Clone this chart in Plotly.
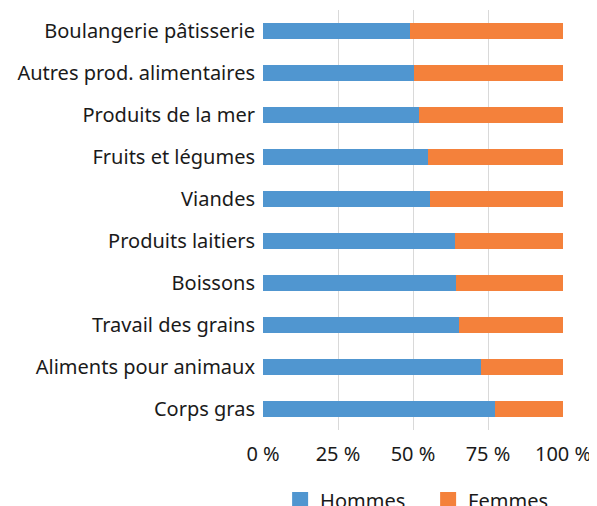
import plotly.graph_objects as go

categories = ["Boulangerie pâtisserie", "Autres prod. alimentaires", "Produits de la mer",
              "Fruits et légumes", "Viandes", "Produits laitiers", "Boissons",
              "Travail des grains", "Aliments pour animaux", "Corps gras"]
hommes = [49.1, 50.2, 51.9, 54.9, 55.7, 64.0, 64.3, 65.2, 72.7, 77.3]
femmes = [round(100 - h, 1) for h in hommes]
tick_vals = [0, 25, 50, 75, 100]
tick_text = ["0 %", "25 %", "50 %", "75 %", "100 %"]

BLUE = "#5096D0"
ORANGE = "#F4813B"
FONT = "Noto Sans"
fig = go.Figure()
fig.add_trace(go.Bar(y=categories, x=hommes, name="Hommes", orientation="h",
                     marker=dict(color=BLUE, line=dict(width=0)), showlegend=False))
fig.add_trace(go.Bar(y=categories, x=femmes, name="Femmes", orientation="h",
                     marker=dict(color=ORANGE, line=dict(width=0)), showlegend=False))
# legend entries with larger square symbols
for name, col in [("Hommes", BLUE), ("Femmes", ORANGE)]:
    fig.add_trace(go.Scatter(x=[None], y=[None], mode="markers", name=name,
                             marker=dict(symbol="square", size=16, color=col)))

fig.update_layout(
    width=589, height=498,
    barmode="stack", bargap=0.61,
    paper_bgcolor="white", plot_bgcolor="white",
    margin=dict(l=255, r=34, t=2, b=76),
    font=dict(family=FONT, size=20, color="#1a1a1a"),
    showlegend=True,
    legend=dict(orientation="h", xref="container", yref="container",
                x=0.462, xanchor="left", y=0.012, yanchor="middle",
                font=dict(size=20), traceorder="normal",
                entrywidth=103, entrywidthmode="pixels"),
)
fig.update_xaxes(range=[0, 100], tickvals=tick_vals, ticktext=tick_text,
                 showgrid=True, gridcolor="#d9d9d9", gridwidth=1, zeroline=False,
                 showline=False, ticks="", ticklabelstandoff=10)
fig.update_yaxes(autorange="reversed", showgrid=False, ticks="", ticklabelstandoff=7)
fig.write_html("out.html")
